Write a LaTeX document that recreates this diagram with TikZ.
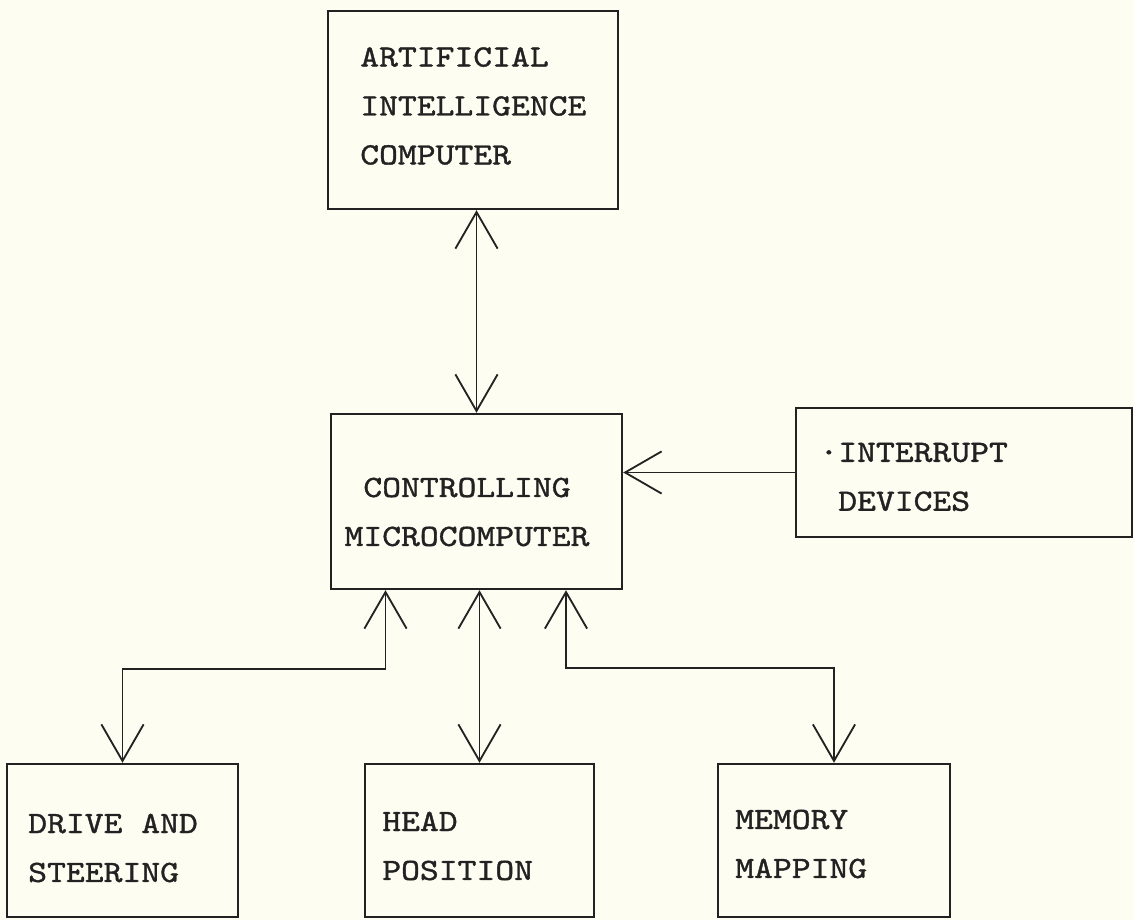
\documentclass[tikz,border=0pt]{standalone}
\usepackage{fontspec}
\newfontfamily\typewriter{lmmono10-regular.otf}[FakeStretch=1.16,FakeBold=1.2]
\usetikzlibrary{arrows.meta,calc}
\definecolor{paper}{RGB}{253,253,241}
\definecolor{ink}{RGB}{34,34,34}

\begin{document}
\begin{tikzpicture}[x=0.025cm, y=-0.025cm, >={Straight Barb[length=26pt,width=30pt]},
    block/.style={draw=ink, line width=1.7pt},
    blocktext/.style={inner sep=0pt, text=ink, align=left, anchor=west,
      font=\typewriter\fontsize{22}{34.8}\selectfont},
    link/.style={draw=ink, line width=1.3pt}]
  \fill[paper] (0,0) rectangle (1134,920);
  \useasboundingbox (0,0) rectangle (1134,920);
  % blocks
  \node[block, minimum width=7.25cm, minimum height=4.95cm] (ai) at (473,110) {};
  \node[block, minimum width=7.275cm, minimum height=4.375cm] (ctrl) at (476.5,501.5) {};
  \node[block, minimum width=8.4cm, minimum height=3.225cm] (intr) at (964,472.5) {};
  \node[block, minimum width=5.775cm, minimum height=3.825cm] (drive) at (122.5,840.5) {};
  \node[block, minimum width=5.725cm, minimum height=3.825cm] (head) at (479.5,840.5) {};
  \node[block, minimum width=5.8cm, minimum height=3.825cm] (mem) at (834,840.5) {};
  % texts
  \node[blocktext] (aitext) at (360,106) {ARTIFICIAL\\INTELLIGENCE\\COMPUTER};
  \node[blocktext, align=center, anchor=center] (ctrltext) at (467,512) {CONTROLLING\\MICROCOMPUTER};
  \node[blocktext] (intrtext) at (838,477) {\llap{\textperiodcentered}INTERRUPT\\DEVICES};
  \node[blocktext] (drivetext) at (28,848) {DRIVE AND\\STEERING};
  \node[blocktext] (headtext) at (382,846) {HEAD\\POSITION};
  \node[blocktext] (memtext) at (735,844) {MEMORY\\MAPPING};
  % links
  \draw[link,<->] (ai.south -| ctrl.north) -- (ctrl.north);
  \draw[link,->] (intr.west) -- (intr.west -| ctrl.east);
  \draw[link,<->] ($(ctrl.south)+(-91,0)$) -- ++(0,79) -| (drive.north);
  \draw[link,<->] (ctrl.south -| head.north) -- (head.north);
  \draw[link,<->] ($(ctrl.south)+(89.5,0)$) -- ++(0,78) -| (mem.north);
\end{tikzpicture}
\end{document}
